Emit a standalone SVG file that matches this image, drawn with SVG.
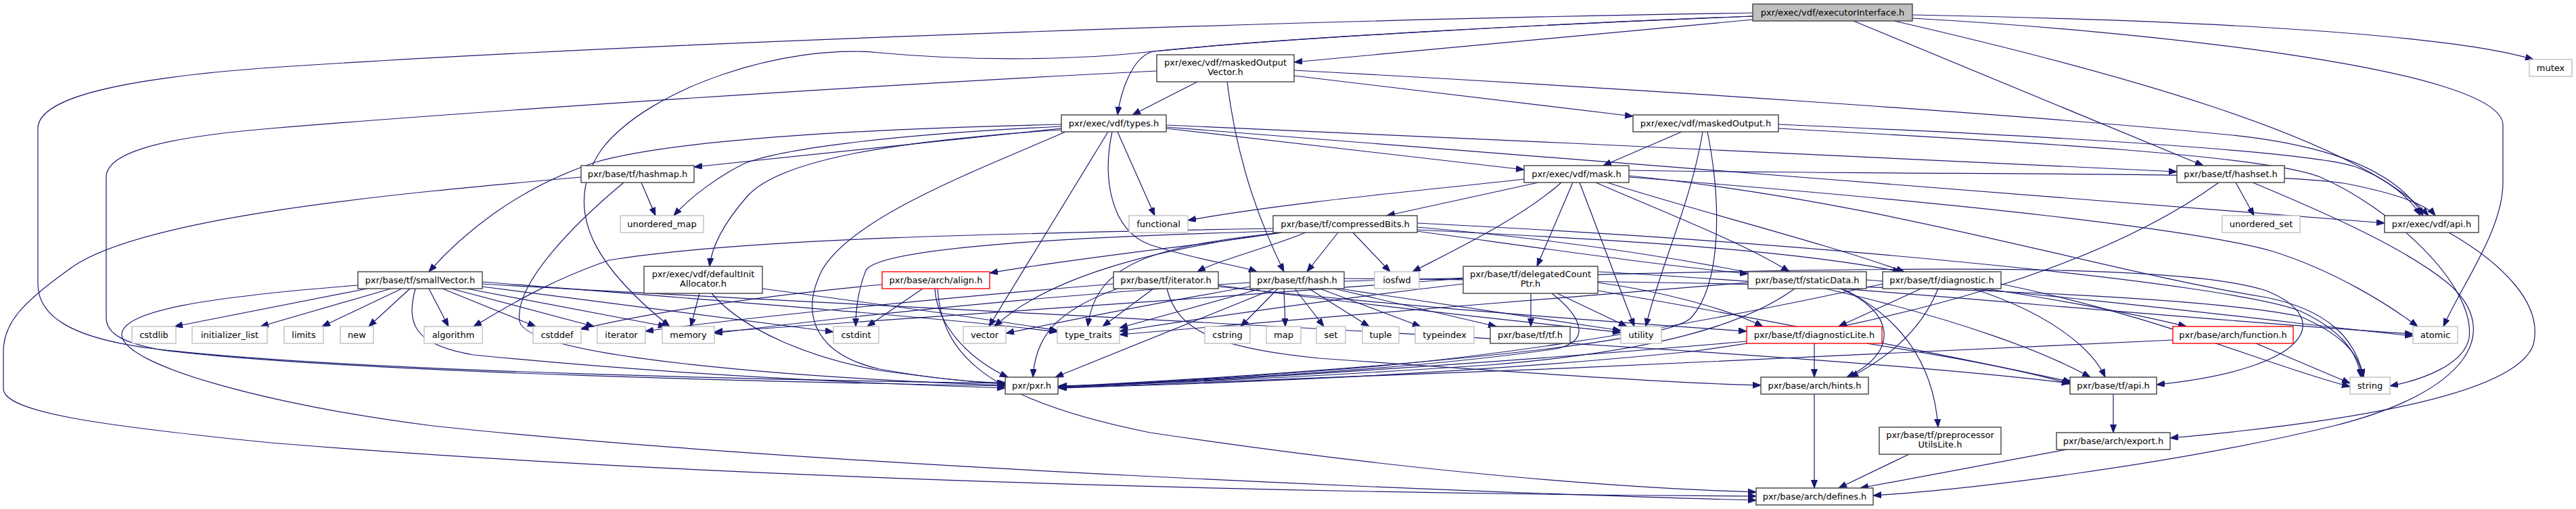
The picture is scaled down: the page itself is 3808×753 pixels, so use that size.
<svg xmlns="http://www.w3.org/2000/svg" width="3808" height="753" viewBox="0 0 3808 753">
<style>
.n rect{fill:#fff;stroke:#404040;stroke-width:1.4}
.s rect{stroke:#bfbfbf}
.r rect{stroke:#ff0000}
.root rect{fill:#bfbfbf}
text{font-family:"DejaVu Sans","Liberation Sans",sans-serif;font-size:13px;text-anchor:middle;fill:#000}
#edges path{fill:none;stroke:#191970;stroke-width:1.2;marker-end:url(#a)}
</style>
<defs>
<marker id="a" markerUnits="userSpaceOnUse" markerWidth="13" markerHeight="10" refX="12" refY="4.5" orient="auto"><path d="M0,0 L12,4.5 L0,9 z" fill="#191970" stroke="#191970" stroke-width="1"/></marker>
</defs>
<rect width="3808" height="753" fill="#fff"/>
<g id="edges">
<path d="M2827,22 C3250,30 3620,50 3745,88"/>
<path d="M2827,27 C3150,45 3700,100 3700,185 L3700,270 C3700,340 3640,420 3612,483"/>
<path d="M2800,31 C3100,100 3480,200 3590,319"/>
<path d="M2740,31 L3257,245"/>
<path d="M2591,29 L1913,92"/>
<path d="M2591,24 C2300,35 1900,56 1705,76 C1672,84 1656,140 1652,170"/>
<path d="M2591,24 C2300,35 1900,56 1705,76 C1600,88 1450,92 1300,78 C1160,64 960,130 890,220 C820,320 900,410 990,483"/>
<path d="M2591,19 C2000,28 1000,60 400,100 C150,118 56,150 56,190 L56,420 C56,470 110,500 220,515 C500,550 1200,563 1486,567"/>
<path d="M1710,105 C1300,125 700,165 400,190 C220,205 157,230 157,262 L157,470 C157,495 185,508 240,518 C520,552 1200,566 1486,571"/>
<path d="M1770,121 L1674,170"/>
<path d="M1913,112 L2414,172"/>
<path d="M1814,121 C1830,250 1868,340 1898,402"/>
<path d="M1913,104 C2400,130 3000,170 3300,200 C3450,216 3545,255 3582,319"/>
<path d="M1652,195 L1707,319"/>
<path d="M1638,195 L1462,483"/>
<path d="M1644,195 C1630,260 1640,340 1700,362 C1770,385 1830,392 1858,402"/>
<path d="M1575,195 C1450,250 1260,320 1215,400 C1180,470 1210,525 1300,546 C1390,562 1445,566 1486,566"/>
<path d="M1569,184 C1300,190 1000,205 880,240 C760,280 680,350 634,402"/>
<path d="M1569,187 C1300,200 1150,222 1100,242 C1060,262 1020,292 996,319"/>
<path d="M1569,190 L1026,247"/>
<path d="M1569,192 C1300,210 1150,240 1105,290 C1070,330 1052,365 1049,394"/>
<path d="M1724,190 L2253,251"/>
<path d="M1724,185 C2200,205 2900,240 3218,254"/>
<path d="M1724,188 C2200,222 3000,292 3525,330"/>
<path d="M2486,195 L2370,245"/>
<path d="M2629,184 C3000,200 3400,222 3480,246 C3530,264 3565,295 3578,319"/>
<path d="M2517,195 C2500,300 2452,400 2433,483"/>
<path d="M2524,195 C2545,300 2545,420 2500,470 C2450,520 1800,560 1565,572"/>
<path d="M2629,190 C3000,210 3350,230 3430,262 C3530,305 3660,420 3650,500 C3642,540 3580,562 3533,571"/>
<path d="M2274,270 L2050,319"/>
<path d="M2308,270 C2250,322 2150,370 2088,402"/>
<path d="M2325,270 L2272,394"/>
<path d="M2335,270 L2416,483"/>
<path d="M2359,270 C2450,310 2580,360 2645,402"/>
<path d="M2376,270 C2500,310 2700,360 2815,402"/>
<path d="M2253,265 C2100,282 1900,300 1756,326"/>
<path d="M2408,252 C2900,260 3350,252 3470,272 C3540,286 3586,302 3600,319"/>
<path d="M2408,260 C2800,300 3100,400 3350,440 C3440,458 3482,500 3494,558"/>
<path d="M2408,262 C2900,300 3250,340 3360,372 C3450,400 3530,450 3574,483"/>
<path d="M948,270 L969,319"/>
<path d="M922,270 C850,330 760,420 768,475 C778,530 1200,560 1486,570"/>
<path d="M859,262 C600,285 200,320 100,400 C30,450 5,480 5,520 L5,575 C5,610 150,630 400,655 C1200,720 2200,732 2596,734"/>
<path d="M529,422 C300,440 180,460 180,495 C180,540 400,600 640,630 C1200,690 2200,730 2596,740"/>
<path d="M543,427 L258,483"/>
<path d="M578,427 L385,483"/>
<path d="M594,427 L476,483"/>
<path d="M606,427 L545,483"/>
<path d="M634,427 L663,483"/>
<path d="M654,427 L792,483"/>
<path d="M667,427 L878,483"/>
<path d="M690,427 L985,483"/>
<path d="M713,424 L1232,491"/>
<path d="M713,417 C1000,440 1400,470 1563,491"/>
<path d="M614,427 C600,480 612,510 700,525 C1000,555 1300,568 1486,574"/>
<path d="M713,420 C1200,450 2600,510 3060,567"/>
<path d="M1034,434 L1021,483"/>
<path d="M1052,434 C1100,490 1200,530 1300,548 C1400,562 1450,566 1486,568"/>
<path d="M1127,427 C1300,450 1480,475 1563,489"/>
<path d="M1364,427 L1282,483"/>
<path d="M1382,427 C1385,480 1430,530 1490,558"/>
<path d="M1386,427 C1392,520 1450,590 1700,640 C2100,700 2400,722 2596,728"/>
<path d="M1304,421 C1100,440 950,465 858,487"/>
<path d="M1652,427 C1560,460 1530,500 1527,558"/>
<path d="M1705,427 L1630,483"/>
<path d="M1725,427 C1740,490 1800,515 1950,530 C2300,555 2500,568 2603,570"/>
<path d="M1646,420 C1400,440 1100,470 954,490"/>
<path d="M1801,422 C2000,450 2250,475 2396,492"/>
<path d="M1801,424 C2100,455 2400,478 2582,490"/>
<path d="M1889,427 L1834,483"/>
<path d="M1898,427 L1900,483"/>
<path d="M1914,427 L1957,483"/>
<path d="M1935,427 L2024,483"/>
<path d="M1951,427 L2100,483"/>
<path d="M1972,427 L2212,483"/>
<path d="M1980,427 L2396,489"/>
<path d="M1864,427 L1655,485"/>
<path d="M1848,424 C1700,450 1600,470 1487,493"/>
<path d="M1884,427 L1560,558"/>
<path d="M1848,418 C1500,440 1200,475 1056,493"/>
<path d="M1987,416 C2600,400 3200,380 3350,430 C3450,470 3420,545 3188,569"/>
<path d="M1987,412 C2600,418 3200,428 3400,468 C3470,498 3490,530 3492,558"/>
<path d="M2263,434 L2263,483"/>
<path d="M2302,434 L2405,483"/>
<path d="M2294,434 C2340,470 2352,505 2300,516 C2100,546 1800,562 1565,572"/>
<path d="M2163,412 C1800,440 1300,475 1056,491"/>
<path d="M2163,420 C1950,445 1750,475 1655,490"/>
<path d="M2362,418 C2450,430 2550,455 2606,483"/>
<path d="M2362,430 C2600,470 2900,530 3062,565"/>
<path d="M2362,402 C2700,420 3200,470 3567,494"/>
<path d="M2720,427 C2800,460 2810,520 2730,558"/>
<path d="M2724,427 C2830,480 2860,560 2865,632"/>
<path d="M2653,427 C2580,480 2450,520 2200,540 C1900,560 1700,568 1565,571"/>
<path d="M2584,418 C2300,440 1900,475 1655,495"/>
<path d="M2759,414 C3100,440 3400,480 3567,497"/>
<path d="M2840,427 L2718,483"/>
<path d="M2865,427 C2840,490 2790,530 2735,558"/>
<path d="M2916,427 C3020,460 3090,510 3112,558"/>
<path d="M2936,427 C3050,445 3160,465 3232,483"/>
<path d="M2958,420 C3200,470 3350,540 3474,572"/>
<path d="M2783,420 C2600,460 2300,520 2000,545 C1800,560 1650,570 1565,572"/>
<path d="M2682,508 L2682,558"/>
<path d="M2759,508 C2900,530 3000,550 3060,568"/>
<path d="M2582,505 C2300,530 1800,565 1565,573"/>
<path d="M3335,508 L3474,567"/>
<path d="M3212,503 C2900,520 2000,560 1565,574"/>
<path d="M1978,344 L1932,402"/>
<path d="M2000,344 L2055,402"/>
<path d="M1930,344 C1880,365 1800,385 1770,402"/>
<path d="M1895,344 C1800,360 1600,380 1463,404"/>
<path d="M1895,344 C1700,365 1620,390 1608,483"/>
<path d="M1890,344 C1700,370 1550,410 1470,483"/>
<path d="M1882,338 C1500,345 1100,352 900,385 C800,420 740,460 700,483"/>
<path d="M1888,342 C1600,350 1300,365 1280,400 C1268,430 1265,460 1265,483"/>
<path d="M2095,330 C2700,360 3300,420 3400,460 C3460,488 3485,520 3490,558"/>
<path d="M2095,336 C2600,380 2950,480 3090,558"/>
<path d="M2095,340 C2400,355 2650,370 2810,402"/>
<path d="M2095,342 C2300,370 2450,392 2584,405"/>
<path d="M3305,270 L3332,319"/>
<path d="M3280,270 C3100,400 2800,480 2500,520 C2100,560 1700,570 1565,574"/>
<path d="M3330,270 C3450,320 3560,370 3620,420 C3700,490 3650,580 3450,630 C3200,690 2900,725 2769,733"/>
<path d="M3620,344 C3700,390 3760,450 3745,510 C3720,580 3500,622 3208,648"/>
<path d="M2682,583 L2682,722"/>
<path d="M3124,583 L3124,640"/>
<path d="M2822,672 L2718,722"/>
<path d="M3055,665 L2750,722"/>
</g>
<g id="n-executorInterface" class="n root"><rect x="2591" y="6" width="236" height="25"/><text x="2709" y="23">pxr/exec/vdf/executorInterface.h</text></g>
<g id="n-maskedOutputVector" class="n"><rect x="1710" y="81" width="203" height="40"/><text x="1811.5" y="97">pxr/exec/vdf/maskedOutput</text><text x="1811.5" y="111">Vector.h</text></g>
<g id="n-types" class="n"><rect x="1569" y="170" width="155" height="25"/><text x="1646.5" y="187">pxr/exec/vdf/types.h</text></g>
<g id="n-maskedOutput" class="n"><rect x="2414" y="170" width="215" height="25"/><text x="2521.5" y="187">pxr/exec/vdf/maskedOutput.h</text></g>
<g id="n-mutex" class="n s"><rect x="3739" y="88" width="63" height="25"/><text x="3770.5" y="105">mutex</text></g>
<g id="n-mask" class="n"><rect x="2253" y="245" width="155" height="25"/><text x="2330.5" y="262">pxr/exec/vdf/mask.h</text></g>
<g id="n-hashmap" class="n"><rect x="859" y="245" width="167" height="25"/><text x="942.5" y="262">pxr/base/tf/hashmap.h</text></g>
<g id="n-hashset" class="n"><rect x="3218" y="245" width="159" height="25"/><text x="3297.5" y="262">pxr/base/tf/hashset.h</text></g>
<g id="n-unordered_map" class="n s"><rect x="917" y="319" width="123" height="25"/><text x="978.5" y="336">unordered_map</text></g>
<g id="n-functional" class="n s"><rect x="1669" y="319" width="87" height="25"/><text x="1712.5" y="336">functional</text></g>
<g id="n-compressedBits" class="n"><rect x="1882" y="319" width="213" height="25"/><text x="1988.5" y="336">pxr/base/tf/compressedBits.h</text></g>
<g id="n-unordered_set" class="n s"><rect x="3285" y="319" width="115" height="25"/><text x="3342.5" y="336">unordered_set</text></g>
<g id="n-vdfapi" class="n"><rect x="3525" y="319" width="139" height="25"/><text x="3594.5" y="336">pxr/exec/vdf/api.h</text></g>
<g id="n-smallVector" class="n"><rect x="529" y="402" width="184" height="25"/><text x="621" y="419">pxr/base/tf/smallVector.h</text></g>
<g id="n-defaultInitAllocator" class="n"><rect x="952" y="394" width="175" height="40"/><text x="1039.5" y="410">pxr/exec/vdf/defaultInit</text><text x="1039.5" y="424">Allocator.h</text></g>
<g id="n-align" class="n r"><rect x="1304" y="402" width="159" height="25"/><text x="1383.5" y="419">pxr/base/arch/align.h</text></g>
<g id="n-tfiterator" class="n"><rect x="1646" y="402" width="155" height="25"/><text x="1723.5" y="419">pxr/base/tf/iterator.h</text></g>
<g id="n-hash" class="n"><rect x="1848" y="402" width="139" height="25"/><text x="1917.5" y="419">pxr/base/tf/hash.h</text></g>
<g id="n-iosfwd" class="n s"><rect x="2032" y="402" width="66" height="25"/><text x="2065" y="419">iosfwd</text></g>
<g id="n-delegatedCountPtr" class="n"><rect x="2163" y="394" width="199" height="40"/><text x="2262.5" y="410">pxr/base/tf/delegatedCount</text><text x="2262.5" y="424">Ptr.h</text></g>
<g id="n-staticData" class="n"><rect x="2584" y="402" width="175" height="25"/><text x="2671.5" y="419">pxr/base/tf/staticData.h</text></g>
<g id="n-diagnostic" class="n"><rect x="2783" y="402" width="175" height="25"/><text x="2870.5" y="419">pxr/base/tf/diagnostic.h</text></g>
<g id="n-cstdlib" class="n s"><rect x="195" y="483" width="65" height="25"/><text x="227.5" y="500">cstdlib</text></g>
<g id="n-initializer_list" class="n s"><rect x="284" y="483" width="111" height="25"/><text x="339.5" y="500">initializer_list</text></g>
<g id="n-limits" class="n s"><rect x="420" y="483" width="58" height="25"/><text x="449" y="500">limits</text></g>
<g id="n-new" class="n s"><rect x="503" y="483" width="49" height="25"/><text x="527.5" y="500">new</text></g>
<g id="n-algorithm" class="n s"><rect x="627" y="483" width="86" height="25"/><text x="670" y="500">algorithm</text></g>
<g id="n-cstddef" class="n s"><rect x="788" y="483" width="71" height="25"/><text x="823.5" y="500">cstddef</text></g>
<g id="n-iterator" class="n s"><rect x="883" y="483" width="71" height="25"/><text x="918.5" y="500">iterator</text></g>
<g id="n-memory" class="n s"><rect x="979" y="483" width="77" height="25"/><text x="1017.5" y="500">memory</text></g>
<g id="n-cstdint" class="n s"><rect x="1232" y="483" width="67" height="25"/><text x="1265.5" y="500">cstdint</text></g>
<g id="n-vector" class="n s"><rect x="1424" y="483" width="63" height="25"/><text x="1455.5" y="500">vector</text></g>
<g id="n-type_traits" class="n s"><rect x="1563" y="483" width="92" height="25"/><text x="1609" y="500">type_traits</text></g>
<g id="n-cstring" class="n s"><rect x="1781" y="483" width="67" height="25"/><text x="1814.5" y="500">cstring</text></g>
<g id="n-map" class="n s"><rect x="1872" y="483" width="51" height="25"/><text x="1897.5" y="500">map</text></g>
<g id="n-set" class="n s"><rect x="1946" y="483" width="43" height="25"/><text x="1967.5" y="500">set</text></g>
<g id="n-tuple" class="n s"><rect x="2014" y="483" width="54" height="25"/><text x="2041" y="500">tuple</text></g>
<g id="n-typeindex" class="n s"><rect x="2092" y="483" width="87" height="25"/><text x="2135.5" y="500">typeindex</text></g>
<g id="n-tf" class="n"><rect x="2203" y="483" width="118" height="25"/><text x="2262" y="500">pxr/base/tf/tf.h</text></g>
<g id="n-utility" class="n s"><rect x="2396" y="483" width="60" height="25"/><text x="2426" y="500">utility</text></g>
<g id="n-diagnosticLite" class="n r"><rect x="2582" y="483" width="200" height="25"/><text x="2682" y="500">pxr/base/tf/diagnosticLite.h</text></g>
<g id="n-function" class="n r"><rect x="3212" y="483" width="178" height="25"/><text x="3301" y="500">pxr/base/arch/function.h</text></g>
<g id="n-atomic" class="n s"><rect x="3567" y="483" width="66" height="25"/><text x="3600" y="500">atomic</text></g>
<g id="n-pxr" class="n"><rect x="1486" y="558" width="78" height="25"/><text x="1525" y="575">pxr/pxr.h</text></g>
<g id="n-hints" class="n"><rect x="2603" y="558" width="159" height="25"/><text x="2682.5" y="575">pxr/base/arch/hints.h</text></g>
<g id="n-tfapi" class="n"><rect x="3060" y="558" width="128" height="25"/><text x="3124" y="575">pxr/base/tf/api.h</text></g>
<g id="n-string" class="n s"><rect x="3474" y="558" width="59" height="25"/><text x="3503.5" y="575">string</text></g>
<g id="n-preprocessorUtilsLite" class="n"><rect x="2778" y="632" width="180" height="40"/><text x="2868" y="648">pxr/base/tf/preprocessor</text><text x="2868" y="662">UtilsLite.h</text></g>
<g id="n-export" class="n"><rect x="3040" y="640" width="168" height="25"/><text x="3124" y="657">pxr/base/arch/export.h</text></g>
<g id="n-defines" class="n"><rect x="2596" y="722" width="173" height="25"/><text x="2682.5" y="739">pxr/base/arch/defines.h</text></g>
</svg>
